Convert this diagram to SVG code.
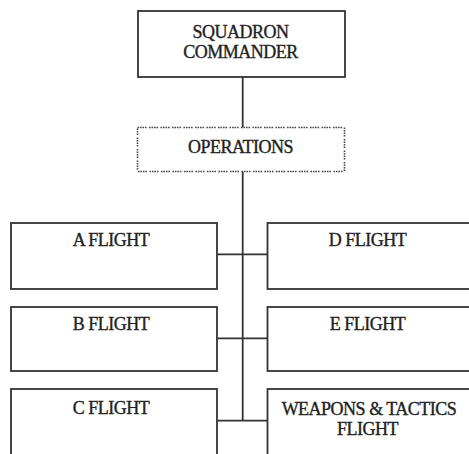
<svg xmlns="http://www.w3.org/2000/svg" width="469" height="454" viewBox="0 0 469 454">
<style>
.box{fill:#fff;stroke:#333;stroke-width:1.8}
.dot{fill:#fff;stroke:#444;stroke-width:1.6;stroke-dasharray:1.6 0.9 1.6 0.9 1.6 0.9 1.6 2.4}
.ln{stroke:#333;stroke-width:1.8;fill:none}
text{font-family:"Liberation Serif","Times New Roman",serif;font-size:18px;fill:#222;stroke:#222;stroke-width:0.35px;text-anchor:middle;letter-spacing:-0.5px}
</style>
<rect width="469" height="454" fill="#fff"/>
<g id="connectors">
<line class="ln" x1="242.7" y1="77" x2="242.7" y2="127.5"/>
<line class="ln" x1="242.7" y1="171.5" x2="242.7" y2="421"/>
<line class="ln" x1="217" y1="254.3" x2="267.5" y2="254.3"/>
<line class="ln" x1="217" y1="338.3" x2="267.5" y2="338.3"/>
<line class="ln" x1="217" y1="420.7" x2="267.5" y2="420.7"/>
</g>
<g id="commander">
<rect class="box" x="138" y="11" width="207" height="66"/>
<text x="240.5" y="38">SQUADRON</text>
<text x="240.5" y="58">COMMANDER</text>
</g>
<g id="operations">
<rect class="dot" x="137.5" y="127.5" width="207" height="44"/>
<text x="240.5" y="153">OPERATIONS</text>
</g>
<g id="a-flight">
<rect class="box" x="11" y="223" width="206" height="66"/>
<text x="111" y="246">A FLIGHT</text>
</g>
<g id="b-flight">
<rect class="box" x="11" y="307" width="206" height="64"/>
<text x="111" y="330">B FLIGHT</text>
</g>
<g id="c-flight">
<rect class="box" x="11" y="389" width="206" height="80"/>
<text x="111" y="414">C FLIGHT</text>
</g>
<g id="d-flight">
<rect class="box" x="267.5" y="223" width="206" height="66"/>
<text x="367.5" y="246">D FLIGHT</text>
</g>
<g id="e-flight">
<rect class="box" x="267.5" y="307" width="206" height="64"/>
<text x="367.5" y="330">E FLIGHT</text>
</g>
<g id="weapons-tactics-flight">
<rect class="box" x="267.5" y="389" width="206" height="80"/>
<text x="369" y="415">WEAPONS &amp; TACTICS</text>
<text x="367.5" y="435">FLIGHT</text>
</g>
</svg>
